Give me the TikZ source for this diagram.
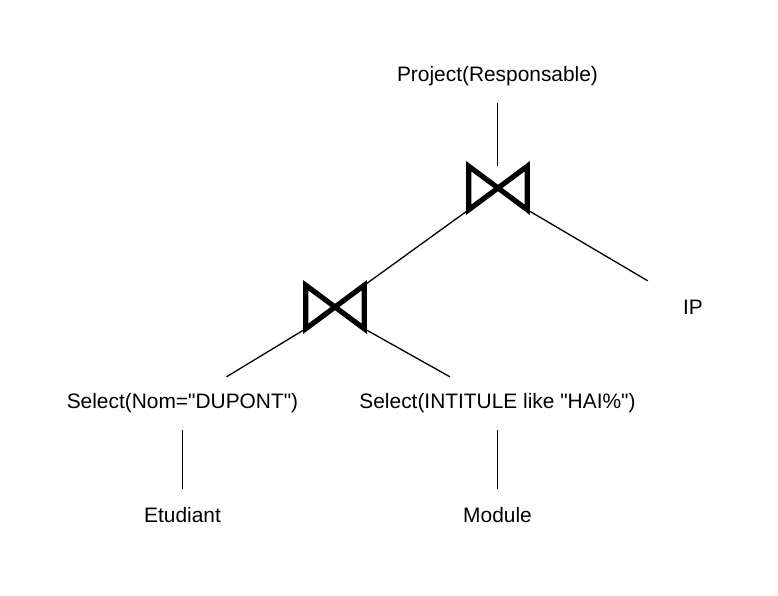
\documentclass[tikz,border=0pt]{standalone}
\usepackage{fontspec}
\setmainfont{Liberation Sans}
\begin{document}
\begin{tikzpicture}[x=1pt,y=-1pt,
  lbl/.style={inner sep=0pt,minimum height=53pt,minimum width=90pt,font=\fontsize{20.9}{25}\selectfont},
  joinnode/.style={inner sep=0pt,minimum width=58pt,minimum height=43pt},
  bowtie/.style={line width=5.2pt,line join=miter,miter limit=10},
  conn/.style={line width=1.3pt}]
\useasboundingbox (0,0) rectangle (778,596);
\node[lbl] (proj) at (497.5,76.5) {Project(Responsable)};
\node[joinnode] (j1) at (498,188) {};
\node[joinnode] (j2) at (335,307) {};
\node[lbl] (ip) at (693,307.5) {IP};
\node[lbl] (sel1) at (182.5,403.5) {Select(Nom=\textquotedbl DUPONT\textquotedbl)};
\node[lbl] (sel2) at (497.5,403.5) {Select(INTITULE like \textquotedbl HAI\%\textquotedbl)};
\node[lbl] (etud) at (182.5,515.5) {Etudiant};
\node[lbl] (mod) at (497.5,515.5) {Module};
\draw[bowtie] (j1.north west) -- (j1.south east) -- (j1.north east) -- (j1.south west) -- cycle;
\draw[bowtie] (j2.north west) -- (j2.south east) -- (j2.north east) -- (j2.south west) -- cycle;
\draw[conn] (proj) -- (j1.north -| proj);
\draw[conn] (j1.south west) -- (j2.north east);
\draw[conn] (j1.south east) -- (ip);
\draw[conn] (j2.south west) -- (sel1);
\draw[conn] (j2.south east) -- (sel2);
\draw[conn] (sel1) -- (etud);
\draw[conn] (sel2) -- (mod);
\end{tikzpicture}
\end{document}
